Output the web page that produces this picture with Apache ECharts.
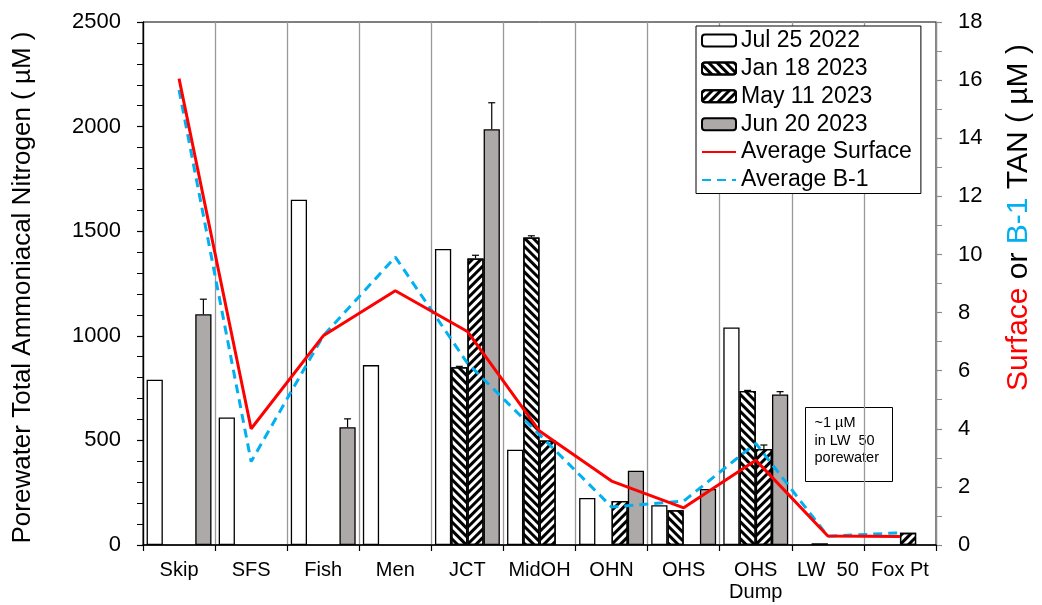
<!DOCTYPE html>
<html>
<head>
<meta charset="utf-8">
<style>
  html, body { margin: 0; padding: 0; background: #fff; }
  #chart { width: 1042px; height: 605px; }
</style>
<script src="https://cdn.jsdelivr.net/npm/echarts@6/dist/echarts.min.js"></script>
</head>
<body>
<div id="chart"></div>
<script>
// Sampling sites along the transect
const categories = ['Skip', 'SFS', 'Fish', 'Men', 'JCT', 'MidOH', 'OHN', 'OHS', 'OHS\nDump', 'LW  50', 'Fox Pt'];

// Porewater TAN (µM), one array per sampling date
const jul2022 = [790, 610, 1650, 860, 1415, 455, 225, 190, 1040, null, null];
const jan2023 = [null, null, null, null, 850, 1470, null, 166, 736, 1, null];
const may2023 = [null, null, null, null, 1370, 500, 210, null, 459, null, 58];
const jun2023 = [1103, null, 563, null, 1987, null, 355, 268, 720, null, null];

// Upper error (µM) for each date
const janErr = [null, null, null, null, 4, 8, null, null, 3, null, null];
const mayErr = [null, null, null, null, 15, null, null, null, 19, null, null];
const junErr = [72, null, 40, null, 127, null, null, null, 13, null, null];

// Water-column averages (µM), right axis
const avgSurface = [16.05, 4.0, 7.2, 8.75, 7.35, 3.92, 2.2, 1.28, 2.92, 0.31, 0.29];
const avgB1 = [15.66, 2.87, 7.2, 9.91, 6.26, 3.8, 1.31, 1.51, 3.5, 0.3, 0.42];

const leftTicks = { min: 0, max: 2500, interval: 500 };
const rightTicks = { min: 0, max: 18, interval: 2 };

const FONT = 'Liberation Sans, Arial, sans-serif';
const CAT_GAP = 0.1;   // fraction of a category left empty around its bars
const SLOTS = 4;

const barBorder = { borderColor: '#000', borderWidth: 1.3 };
const hatch = (rot) => ({
  symbol: 'rect',
  symbolSize: 1,
  dashArrayX: [1, 0],
  dashArrayY: [3, 3],
  rotation: rot,
  color: '#000'
});

// error-bar records: [categoryIndex, slotIndex, value, error]
const errRows = [];
[[jan2023, janErr, 1], [may2023, mayErr, 2], [jun2023, junErr, 3]].forEach(([vals, errs, slot]) => {
  errs.forEach((e, i) => {
    if (e != null && vals[i] != null) errRows.push([i, slot, vals[i], e]);
  });
});

const chart = echarts.init(document.getElementById('chart'), null, { renderer: 'canvas' });

const plainNumber = (v) => String(v);

const option = {
  backgroundColor: '#fff',
  animation: false,
  textStyle: { fontFamily: FONT, color: '#000' },
  grid: {
    left: 143, right: 105, top: 22, bottom: 60,
    show: true, borderColor: '#000', borderWidth: 1, backgroundColor: 'transparent'
  },
  legend: {
    orient: 'vertical',
    left: 696, top: 26,
    padding: [3, 9, 2, 5],
    itemGap: 4.9,
    itemWidth: 34, itemHeight: 12,
    itemTextGap: 4,
    borderColor: '#000', borderWidth: 1,
    backgroundColor: '#fff',
    textStyle: { fontFamily: FONT, fontSize: 23, color: '#000' },
    data: [
      'Jul 25 2022', 'Jan 18 2023', 'May 11 2023', 'Jun 20 2023',
      { name: 'Average Surface', itemStyle: { opacity: 0 } },
      { name: 'Average B-1', itemStyle: { opacity: 0 } }
    ]
  },
  xAxis: {
    type: 'category',
    data: categories,
    boundaryGap: true,
    axisLine: { lineStyle: { color: '#000', width: 1.5 } },
    axisTick: { show: true, length: 6, lineStyle: { color: '#000', width: 1.2 } },
    axisLabel: { fontFamily: FONT, fontSize: 20, color: '#000', margin: 14, lineHeight: 22, interval: 0 },
    splitLine: { show: true, lineStyle: { color: '#9a9a9a', width: 1.3 } }
  },
  yAxis: [
    {
      type: 'value',
      min: leftTicks.min, max: leftTicks.max, interval: leftTicks.interval,
      name: 'Porewater Total Ammoniacal Nitrogen ( µM )',
      nameLocation: 'middle', nameRotate: 90, nameGap: 107,
      nameTextStyle: { fontFamily: FONT, fontSize: 26, color: '#000', padding: [0, 8, 0, 0] },
      axisLine: { show: true, lineStyle: { color: '#000', width: 1.3 } },
      axisTick: { show: true, inside: false, length: 6, lineStyle: { color: '#000', width: 1.2 } },
      minorTick: { show: true, splitNumber: 5, length: 6, lineStyle: { color: '#000', width: 1 } },
      axisLabel: { fontFamily: FONT, fontSize: 22, color: '#000', margin: 22, formatter: plainNumber },
      splitLine: { show: false }
    },
    {
      type: 'value',
      position: 'right',
      min: rightTicks.min, max: rightTicks.max, interval: rightTicks.interval,
      name: '{r|Surface} or {b|B-1} TAN ( µM )',
      nameLocation: 'middle', nameRotate: 90, nameGap: 68,
      nameTextStyle: {
        fontFamily: FONT, fontSize: 30, color: '#000',
        padding: [0, 0, 0, 132],
        rich: {
          r: { fontFamily: FONT, fontSize: 30, color: '#ff0000' },
          b: { fontFamily: FONT, fontSize: 30, color: '#00b0f0' }
        }
      },
      axisLine: { show: true, lineStyle: { color: '#8c8c8c', width: 1.3 } },
      axisTick: { show: true, inside: false, length: 6, lineStyle: { color: '#8c8c8c', width: 1.2 } },
      minorTick: { show: true, splitNumber: 2, length: 6, lineStyle: { color: '#8c8c8c', width: 1 } },
      axisLabel: { fontFamily: FONT, fontSize: 22, color: '#000', margin: 22, formatter: plainNumber },
      splitLine: { show: false }
    }
  ],
  series: [
    {
      name: 'Jul 25 2022', type: 'bar', data: jul2022,
      barGap: 0, barCategoryGap: (CAT_GAP * 100) + '%',
      itemStyle: Object.assign({ color: '#ffffff' }, barBorder), z: 2
    },
    {
      name: 'Jan 18 2023', type: 'bar', data: jan2023,
      barGap: 0, barCategoryGap: (CAT_GAP * 100) + '%', barMinHeight: 1.5,
      itemStyle: Object.assign({ color: '#ffffff', decal: hatch(Math.PI / 4) }, barBorder), z: 2
    },
    {
      name: 'May 11 2023', type: 'bar', data: may2023,
      barGap: 0, barCategoryGap: (CAT_GAP * 100) + '%',
      itemStyle: Object.assign({ color: '#ffffff', decal: hatch(-Math.PI / 4) }, barBorder), z: 2
    },
    {
      name: 'Jun 20 2023', type: 'bar', data: jun2023,
      barGap: 0, barCategoryGap: (CAT_GAP * 100) + '%',
      itemStyle: Object.assign({ color: '#ada9a8' }, barBorder), z: 2
    },
    {
      // upper error whiskers on the dated bars
      name: 'errors', type: 'custom', data: errRows,
      encode: { x: 0, y: 2 },
      z: 3, silent: true,
      renderItem: function (params, api) {
        const cat = api.value(0), slot = api.value(1), v = api.value(2), e = api.value(3);
        const catW = api.size([1, 0])[0];
        const bw = catW * (1 - CAT_GAP) / SLOTS;
        const base = api.coord([cat, v]);
        const top = api.coord([cat, v + e]);
        const x = base[0] + (slot + 0.5 - SLOTS / 2) * bw;
        const st = { stroke: '#000', lineWidth: 1.2 };
        return {
          type: 'group',
          children: [
            { type: 'line', shape: { x1: x, y1: base[1], x2: x, y2: top[1] }, style: st },
            { type: 'line', shape: { x1: x - 3.5, y1: top[1], x2: x + 3.5, y2: top[1] }, style: st }
          ]
        };
      }
    },
    {
      name: 'Average Surface', type: 'line', yAxisIndex: 1, data: avgSurface,
      symbol: 'none', z: 5,
      lineStyle: { color: '#ff0000', width: 3 },
      itemStyle: { color: '#ff0000' }
    },
    {
      name: 'Average B-1', type: 'line', yAxisIndex: 1, data: avgB1,
      symbol: 'none', z: 4,
      lineStyle: { color: '#00b0f0', width: 3, type: [9, 6] },
      itemStyle: { color: '#00b0f0' }
    }
  ],
  graphic: [
    {
      type: 'group', left: 805, top: 407, z: 10,
      children: [
        { type: 'rect', shape: { x: 0, y: 0, width: 87, height: 74 },
          style: { fill: '#fff', stroke: '#000', lineWidth: 1 } },
        { type: 'text', x: 9, y: 7,
          style: { text: '~1 µM\nin LW  50\nporewater', fontFamily: FONT, fontSize: 14.5, lineHeight: 17.5, fill: '#000' } }
      ]
    }
  ]
};

chart.setOption(option);
</script>
</body>
</html>
